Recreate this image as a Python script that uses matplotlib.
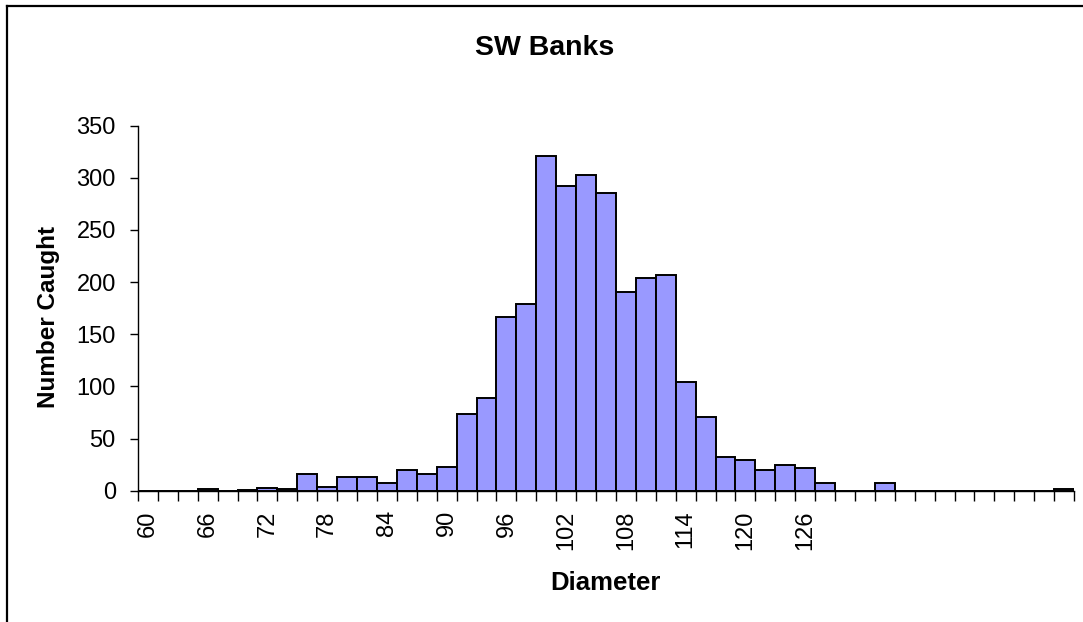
import matplotlib
matplotlib.use('Agg')
import matplotlib.pyplot as plt
from matplotlib.lines import Line2D
import numpy as np

plt.rcParams['font.family'] = ['Liberation Sans', 'DejaVu Sans']

# size classes (mm), 2 mm bins
diameters = list(range(60, 154, 2))
counts = [0, 0, 0, 2, 0, 1, 3, 2, 16, 4,
          13, 13, 7, 20, 16, 23, 74, 89, 167, 179,
          321, 292, 303, 285, 191, 204, 207, 104, 71, 32,
          29, 20, 25, 22, 7, 0, 0, 7, 0, 0,
          0, 0, 0, 0, 0, 0, 2]
label_values = [60, 66, 72, 78, 84, 90, 96, 102, 108, 114, 120, 126]
y_ticks = [0, 50, 100, 150, 200, 250, 300, 350]

W, H = 1083, 622
fig = plt.figure(figsize=(W / 100, H / 100), dpi=100)
ax = fig.add_axes([138 / W, 1 - 490.7 / H, (1074 - 138) / W, (490.7 - 125.7) / H])

x = np.arange(len(diameters))
ax.bar(x, counts, width=1.0, color='#9999FF', edgecolor='black', linewidth=1.4)

ax.set_xlim(-0.5, len(diameters) - 0.5)
ax.set_ylim(0, 350)

# tick marks sit on the bin edges, labels on every third bin centre
ax.set_xticks(np.arange(len(diameters) + 1) - 0.5)
ax.set_xticklabels([])
ax.tick_params(axis='x', which='major', direction='out', length=7, width=1.0)
label_pos = [diameters.index(v) for v in label_values]
ax.set_xticks(label_pos, minor=True)
ax.set_xticklabels([str(v) for v in label_values], minor=True, rotation=90, fontsize=17)
ax.tick_params(axis='x', which='minor', length=0, pad=14)

ax.set_yticks(y_ticks)
ax.set_yticklabels([str(v) for v in y_ticks], fontsize=17)
ax.tick_params(axis='y', direction='out', length=6, width=1.0, pad=10)

for side in ('top', 'right'):
    ax.spines[side].set_visible(False)
for side in ('left', 'bottom'):
    ax.spines[side].set_linewidth(1.0)

fig.text(545 / W, 1 - 55 / H, 'SW Banks', ha='center', va='baseline',
         fontsize=20.5, fontweight='bold')
fig.text(605 / W, 1 - 590 / H, 'Diameter', ha='center', va='baseline',
         fontsize=18.5, fontweight='bold')
fig.text(49 / W, 1 - 316.5 / H, 'Number Caught', ha='center', va='center',
         rotation=90, fontsize=17.5, fontweight='bold')

# chart-area frame (top and left edges)
fig.add_artist(Line2D([6.5 / W, 1], [1 - 5.5 / H, 1 - 5.5 / H], color='black', lw=1.6,
                      transform=fig.transFigure))
fig.add_artist(Line2D([6.5 / W, 6.5 / W], [0, 1 - 5.5 / H], color='black', lw=1.6,
                      transform=fig.transFigure))

fig.savefig('out.png', dpi=100)
